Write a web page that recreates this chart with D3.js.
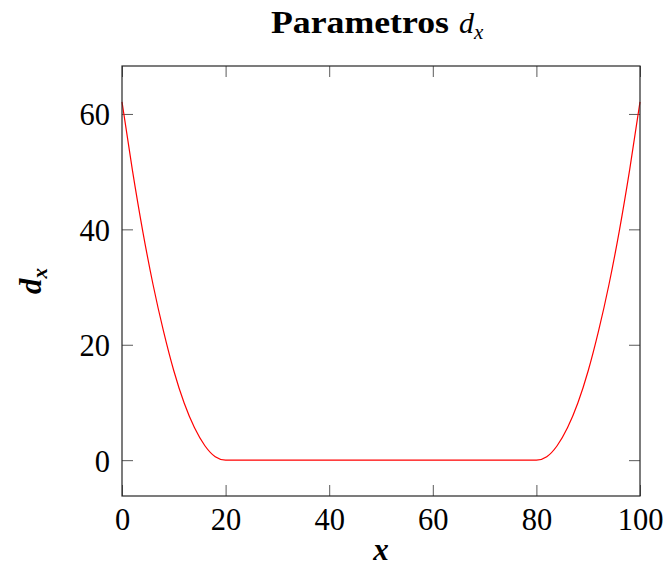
<!DOCTYPE html>
<html>
<head>
<meta charset="utf-8">
<script src="https://cdn.jsdelivr.net/npm/d3@7"></script>
<style>
  html, body { margin: 0; padding: 0; background: #fff; }
  svg { display: block; }
  text { font-family: "Liberation Serif", "DejaVu Serif", serif; fill: #000; }
</style>
</head>
<body>
<svg id="chart" width="667" height="567"></svg>
<script>
// ---- data ----
const xValues = [0, 2, 4, 6, 8, 10, 12, 14, 16, 18, 20, 80, 82, 84, 86, 88, 90, 92, 94, 96, 98, 100];
const dValues = [62.1, 50.3, 39.7, 30.4, 22.4, 15.5, 9.9, 5.6, 2.5, 0.6, 0, 0, 0.6, 2.5, 5.6, 9.9, 15.5, 22.4, 30.4, 39.7, 50.3, 62.1];
const xTicks = [0, 20, 40, 60, 80, 100];
const yTicks = [0, 20, 40, 60];
const xDomain = [0, 100];
const yDomain = [-6.21, 68.31];
const titleMain = "Parametros";
const titleSym = "d";
const titleSub = "x";
const xLabel = "x";
const yLabelMain = "d";
const yLabelSub = "x";

// ---- layout ----
const plot = { left: 122, right: 640, top: 66, bottom: 496 };
const svg = d3.select("#chart");

const x = d3.scaleLinear().domain(xDomain).range([plot.left, plot.right]);
const y = d3.scaleLinear().domain(yDomain).range([plot.bottom, plot.top]);

const tickLen = 11;
const tickColor = "#5a5a5a";

const axisBottom = d3.axisBottom(x).tickValues(xTicks).tickSize(-tickLen).tickFormat(d3.format("d")).tickPadding(14);
const axisTop = d3.axisTop(x).tickValues(xTicks).tickSize(-tickLen).tickFormat("");
const axisLeft = d3.axisLeft(y).tickValues(yTicks).tickSize(-tickLen).tickFormat(d3.format("d")).tickPadding(12);
const axisRight = d3.axisRight(y).tickValues(yTicks).tickSize(-tickLen).tickFormat("");

function styleAxis(g) {
  g.select(".domain").remove();
  g.selectAll(".tick line").attr("stroke", tickColor).attr("stroke-width", 1);
  g.selectAll(".tick text")
    .style("font-family", '"Liberation Serif", serif')
    .style("font-size", "30.5px")
    .attr("fill", "#000");
}

const gB = svg.append("g").attr("transform", `translate(0,${plot.bottom})`).call(axisBottom).call(styleAxis);
gB.selectAll(".tick text").attr("dy", "0.66em");
svg.append("g").attr("transform", `translate(0,${plot.top})`).call(axisTop).call(styleAxis);
const gL = svg.append("g").attr("transform", `translate(${plot.left},0)`).call(axisLeft).call(styleAxis);
gL.selectAll(".tick text").attr("dy", "0.36em");
svg.append("g").attr("transform", `translate(${plot.right},0)`).call(axisRight).call(styleAxis);

// curve
const data = xValues.map((v, i) => ({ x: v, d: dValues[i] }));
svg.append("path")
  .datum(data)
  .attr("fill", "none")
  .attr("stroke", "#ff0000")
  .attr("stroke-width", 1.2)
  .attr("d", d3.line().x(p => x(p.x)).y(p => y(p.d)).curve(d3.curveMonotoneX));

// frame
svg.append("rect")
  .attr("x", plot.left).attr("y", plot.top)
  .attr("width", plot.right - plot.left).attr("height", plot.bottom - plot.top)
  .attr("fill", "none").attr("stroke", "#262626").attr("stroke-width", 1.2);

// title
svg.append("text")
  .attr("x", 271).attr("y", 33)
  .style("font-size", "31px").style("font-weight", "bold")
  .attr("textLength", 178).attr("lengthAdjust", "spacingAndGlyphs")
  .text(titleMain);
const t2 = svg.append("text")
  .attr("x", 459).attr("y", 33)
  .style("font-size", "30px").style("font-style", "italic");
t2.append("tspan").text(titleSym);
t2.append("tspan").style("font-size", "21px").attr("dy", 6).text(titleSub);

// x label
svg.append("text")
  .attr("x", (plot.left + plot.right) / 2)
  .attr("y", 560)
  .attr("text-anchor", "middle")
  .style("font-size", "31px")
  .style("font-weight", "bold")
  .style("font-style", "italic")
  .text(xLabel);

// y label
const yl = svg.append("text")
  .attr("transform", `translate(41,${(plot.top + plot.bottom) / 2}) rotate(-90)`)
  .attr("text-anchor", "middle")
  .style("font-size", "31px")
  .style("font-weight", "bold")
  .style("font-style", "italic");
yl.append("tspan").text(yLabelMain);
yl.append("tspan").style("font-size", "21px").attr("dy", 6).text(yLabelSub);
</script>
</body>
</html>
